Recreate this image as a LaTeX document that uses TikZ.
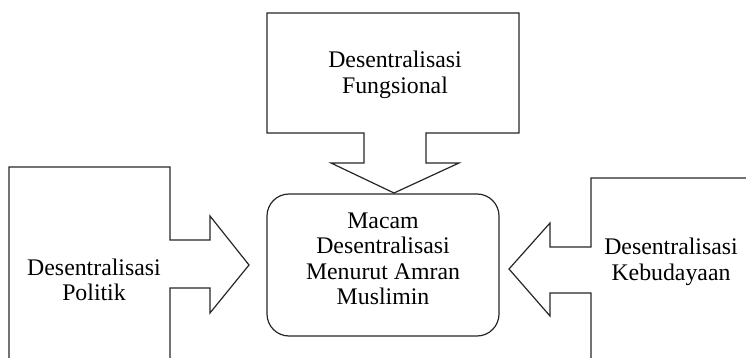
\documentclass[tikz,border=0pt]{standalone}
\usepackage{fontspec}
\setmainfont{Liberation Serif}
\begin{document}
\begin{tikzpicture}[x=1pt,y=-1pt,
  shapeline/.style={draw=black!85,line width=1.2pt,line join=miter},
  lbl/.style={align=center,inner sep=0pt,font=\fontsize{23.8}{25.5}\selectfont}]
\useasboundingbox (0,0) rectangle (746,358);
\clip (0,0) rectangle (746,358);
% left callout
\draw[shapeline] (9,370) -- (9,167) -- (170,167) -- (170,240) -- (210,240) -- (210,216)
  -- (249,265) -- (210,313) -- (210,288) -- (170,288) -- (170,370);
% top callout
\draw[shapeline] (267,13) -- (519,13) -- (519,133) -- (426,133) -- (426,163) -- (459,163)
  -- (394,193) -- (331,163) -- (364,163) -- (364,133) -- (267,133) -- cycle;
% right callout
\draw[shapeline] (760,178) -- (591,178) -- (591,247) -- (550,247) -- (550,223)
  -- (509,269) -- (550,316) -- (550,293) -- (591,293) -- (591,370);
% centre box
\draw[shapeline,rounded corners=22pt] (267,194) rectangle (499,336);
\node[lbl] (left) at (94,280) {Desentralisasi\\Politik};
\node[lbl] (top) at (395,75) {Desentralisasi\\Fungsional};
\node[lbl] (right) at (671,262) {Desentralisasi\\Kebudayaan};
\node[lbl] (centre) at (383,259) {Macam\\Desentralisasi\\Menurut Amran\\Muslimin};
\end{tikzpicture}
\end{document}
